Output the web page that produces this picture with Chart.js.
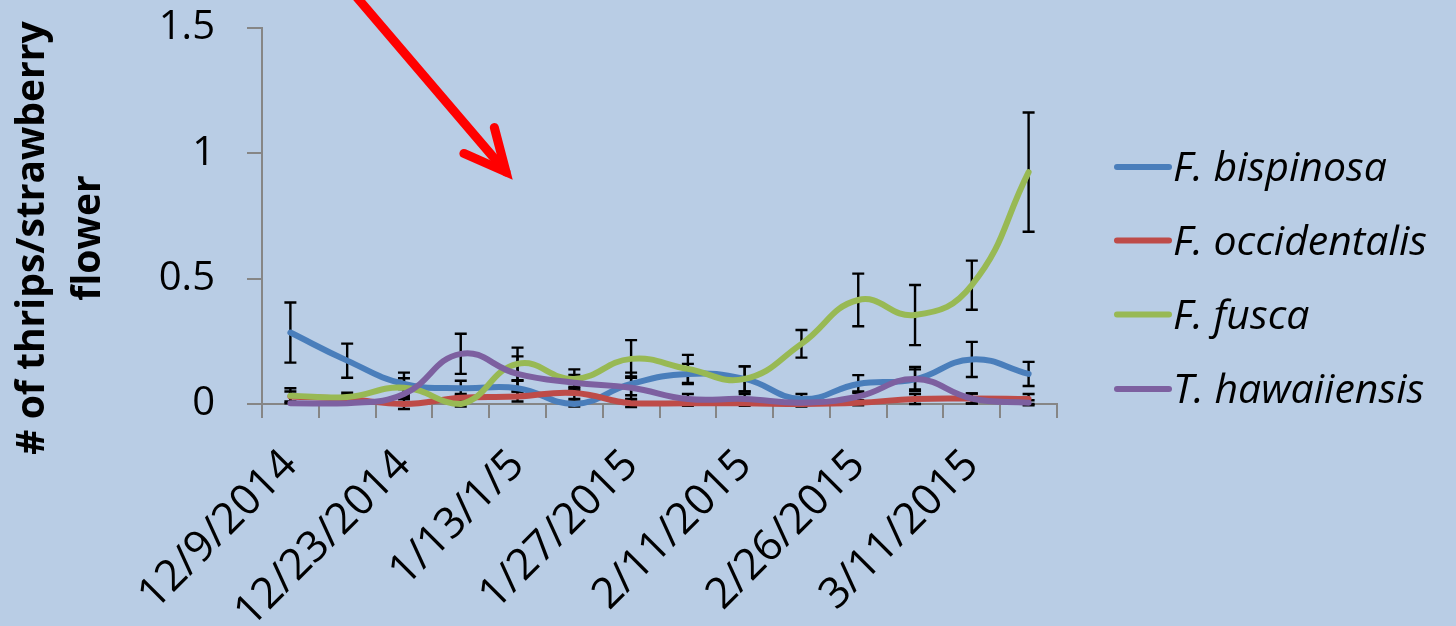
<!DOCTYPE html>
<html>
<head>
<meta charset="utf-8">
<script src="https://cdn.jsdelivr.net/npm/chart.js@4/dist/chart.umd.min.js"></script>
<style>
  html, body { margin: 0; padding: 0; background: #B9CDE5; }
  #wrap { width: 1456px; height: 626px; }
</style>
</head>
<body>
<div id="wrap"><canvas id="c" width="1456" height="626"></canvas></div>
<script>
// Sampling dates (only every other date is labelled on the axis)
const categories = ['12/9/2014', '', '12/23/2014', '', '1/13/1/5', '', '1/27/2015', '',
                    '2/11/2015', '', '2/26/2015', '', '3/11/2015', ''];

// Mean number of thrips per strawberry flower, by species
const bispinosa     = [0.285, 0.173, 0.080, 0.063, 0.063, 0.000, 0.080, 0.120, 0.100, 0.020, 0.080, 0.098, 0.178, 0.120];
const occidentalis  = [0.030, 0.020, 0.000, 0.025, 0.030, 0.044, 0.003, 0.003, 0.003, 0.000, 0.005, 0.020, 0.022, 0.020];
const fusca         = [0.033, 0.028, 0.065, 0.000, 0.160, 0.100, 0.180, 0.140, 0.100, 0.240, 0.415, 0.355, 0.474, 0.925];
const hawaiiensis   = [0.003, 0.003, 0.040, 0.200, 0.120, 0.085, 0.065, 0.020, 0.020, 0.005, 0.030, 0.100, 0.022, 0.005];

// Standard errors
const bispinosaErr    = [0.120, 0.068, 0.045, 0.030, 0.030, 0.010, 0.045, 0.040, 0.050, 0.020, 0.035, 0.040, 0.070, 0.048];
const occidentalisErr = [0.020, 0.015, 0.020, 0.015, 0.020, 0.024, 0.015, 0.010, 0.010, 0.010, 0.010, 0.020, 0.020, 0.020];
const fuscaErr        = [0.030, 0.017, 0.038, 0.010, 0.065, 0.038, 0.075, 0.056, 0.050, 0.055, 0.105, 0.120, 0.098, 0.238];
const hawaiiensisErr  = [0.000, 0.000, 0.020, 0.080, 0.070, 0.031, 0.045, 0.020, 0.020, 0.010, 0.020, 0.048, 0.020, 0.010];

const yTicks = [0, 0.5, 1, 1.5];
const seriesNames = ['F. bispinosa', 'F. occidentalis', 'F. fusca', 'T. hawaiiensis'];
const yTitle = ['# of thrips/strawberry', 'flower'];

const FONT = '"Open Sans", "DejaVu Sans", sans-serif';
const AXIS_GREY = '#868686';

// Vertical error bars with caps, drawn underneath the lines
const errorBarPlugin = {
  id: 'errorBars',
  beforeDatasetsDraw(chart) {
    const { ctx, scales: { x, y } } = chart;
    ctx.save();
    ctx.strokeStyle = '#000';
    ctx.lineWidth = 2.4;
    chart.data.datasets.forEach((ds) => {
      if (!ds.errorBars) return;
      ds.data.forEach((v, i) => {
        const e = ds.errorBars[i];
        if (!e) return;
        const px = x.getPixelForValue(i);
        const top = y.getPixelForValue(v + e);
        const bot = y.getPixelForValue(v - e);
        ctx.beginPath();
        ctx.moveTo(px, top); ctx.lineTo(px, bot);
        ctx.moveTo(px - 6, top); ctx.lineTo(px + 6, top);
        ctx.moveTo(px - 6, bot); ctx.lineTo(px + 6, bot);
        ctx.stroke();
      });
    });
    ctx.restore();
  }
};

// Legend, y-axis title and the pointer arrow
const decorPlugin = {
  id: 'decor',
  afterDraw(chart) {
    const { ctx } = chart;
    ctx.save();

    // Legend entries on the right
    const legendY = [167, 240.5, 314.5, 389];
    chart.data.datasets.forEach((ds, i) => {
      const yy = legendY[i];
      ctx.strokeStyle = ds.borderColor;
      ctx.lineWidth = 6;
      ctx.lineCap = 'round';
      ctx.beginPath();
      ctx.moveTo(1117, yy); ctx.lineTo(1169, yy);
      ctx.stroke();
      ctx.fillStyle = '#000';
      ctx.font = 'italic 41px ' + FONT;
      ctx.textAlign = 'left';
      ctx.textBaseline = 'alphabetic';
      ctx.fillText(ds.label, 1173, yy + 14);
    });

    // Rotated two-line axis title
    ctx.fillStyle = '#000';
    ctx.font = 'bold 39px ' + FONT;
    ctx.textAlign = 'center';
    ctx.textBaseline = 'alphabetic';
    const baselines = [44, 100];
    yTitle.forEach((line, i) => {
      ctx.save();
      ctx.translate(baselines[i], 238);
      ctx.rotate(-Math.PI / 2);
      ctx.fillText(line, 0, 0);
      ctx.restore();
    });

    // Red arrow
    const tip = [506, 172];
    const start = [354, -6];
    const ang = Math.atan2(tip[1] - start[1], tip[0] - start[0]);
    ctx.strokeStyle = '#FF0000';
    ctx.lineWidth = 9;
    ctx.lineCap = 'round';
    ctx.lineJoin = 'miter';
    ctx.beginPath();
    ctx.moveTo(start[0], start[1]);
    ctx.lineTo(tip[0], tip[1]);
    ctx.stroke();
    const len = 46;
    ctx.beginPath();
    ctx.moveTo(tip[0] + len * Math.cos(ang + Math.PI - 0.45), tip[1] + len * Math.sin(ang + Math.PI - 0.45));
    ctx.lineTo(tip[0], tip[1]);
    ctx.lineTo(tip[0] + len * Math.cos(ang + Math.PI + 0.45), tip[1] + len * Math.sin(ang + Math.PI + 0.45));
    ctx.stroke();

    ctx.restore();
  }
};

const lineDs = (label, data, err, color, order) => ({
  label, data, errorBars: err,
  borderColor: color, backgroundColor: color,
  borderWidth: 6, pointRadius: 0, tension: 0.45,
  borderCapStyle: 'round', borderJoinStyle: 'round',
  fill: false, clip: 8, order
});

new Chart(document.getElementById('c'), {
  type: 'line',
  data: {
    labels: categories,
    datasets: [
      lineDs(seriesNames[0], bispinosa, bispinosaErr, '#4A7EBB', 4),
      lineDs(seriesNames[1], occidentalis, occidentalisErr, '#BE4B48', 3),
      lineDs(seriesNames[2], fusca, fuscaErr, '#98B954', 2),
      lineDs(seriesNames[3], hawaiiensis, hawaiiensisErr, '#7D60A0', 1)
    ]
  },
  options: {
    responsive: false,
    animation: false,
    layout: { padding: { left: 0, right: 399, top: 28, bottom: 0 } },
    plugins: { legend: { display: false }, tooltip: { enabled: false } },
    scales: {
      x: {
        offset: true,
        grid: { offset: true, drawOnChartArea: false, drawTicks: true, tickLength: 14, color: AXIS_GREY, lineWidth: 2 },
        border: { color: AXIS_GREY, width: 2 },
        ticks: {
          autoSkip: false, minRotation: 45, maxRotation: 45,
          color: '#000', padding: 22,
          font: { family: FONT, size: 43 }
        },
        afterFit(s) { s.height = 222; s.paddingLeft = 0; s.paddingRight = 0; }
      },
      y: {
        min: 0, max: 1.5,
        afterBuildTicks(s) { s.ticks = yTicks.map(v => ({ value: v })); },
        grid: { drawOnChartArea: false, drawTicks: true, tickLength: 15, color: AXIS_GREY, lineWidth: 2 },
        border: { color: AXIS_GREY, width: 2 },
        ticks: {
          color: '#000', padding: 32,
          font: { family: FONT, size: 40 },
          callback: (v) => String(v)
        },
        afterFit(s) { s.width = 262; s.paddingTop = 0; s.paddingBottom = 0; }
      }
    }
  },
  plugins: [errorBarPlugin, decorPlugin]
});
</script>
</body>
</html>
